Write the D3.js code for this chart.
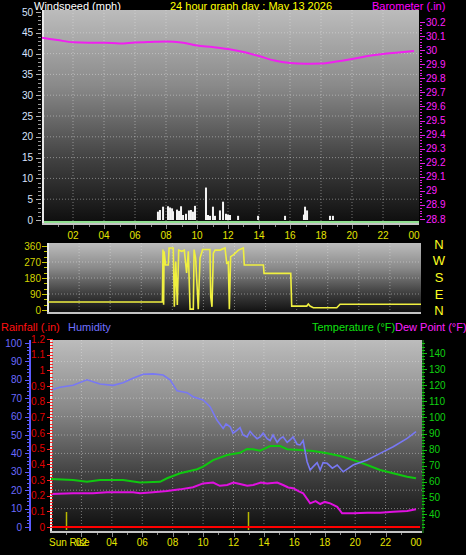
<!DOCTYPE html>
<html><head><meta charset="utf-8">
<script src="https://cdn.jsdelivr.net/npm/d3@7"></script>
<style>body{margin:0;background:#000;}svg{display:block;}text{font-family:"Liberation Sans",Arial,sans-serif;}</style>
</head><body><svg id="c" width="466" height="555"></svg>
<script>
// ---------- DATA ----------
const hourLabels = ["02","04","06","08","10","12","14","16","18","20","22","00"];
const hourLabelPos = [2,4,6,8,10,12,14,16,18,20,22,24];
const windTicks = [0,5,10,15,20,25,30,35,40,45,50];
const baroTicks = [28.8,28.9,29,29.1,29.2,29.3,29.4,29.5,29.6,29.7,29.8,29.9,30,30.1,30.2];
const dirTicks = [0,90,180,270,360];
const compass = ["N","W","S","E","N"];
const humTicks = [0,10,20,30,40,50,60,70,80,90,100];
const rainTicks = [0,0.1,0.2,0.3,0.4,0.5,0.6,0.7,0.8,0.9,1,1.1,1.2];
const tempTicks = [40,50,60,70,80,90,100,110,120,130,140];

const baroHours = [0,1,2,3,4,5,6,7,8,9,10,11,12,13,14,15,16,17,18,19,20,21,22,23,24];
const baroValues = [30.088,30.072,30.056,30.053,30.053,30.047,30.054,30.058,30.061,30.054,30.033,30.022,30.008,29.987,29.958,29.926,29.909,29.904,29.905,29.919,29.937,29.958,29.973,29.983,29.994];

const windHours = [7.48,7.61,7.81,8.13,8.26,8.39,8.45,8.71,8.84,8.97,9.10,9.29,9.48,9.61,9.74,9.87,10.58,10.71,10.84,11.03,11.16,11.48,11.68,11.87,12.0,12.13,12.65,13.94,15.68,16.9,16.97,17.1,18.58,18.77];
const windSpeeds = [2.0,2.4,3.2,3.3,3.0,2.8,2.1,2.5,2.2,3.3,1.2,1.5,2.3,2.4,2.0,3.4,7.8,1.2,1.0,3.2,1.0,2.3,4.4,1.5,1.3,1.2,1.0,1.0,1.0,1.3,3.2,2.3,1.0,1.0];

const dirHours = [0,7.36,7.40,7.44,7.47,7.57,7.74,7.79,8.06,8.13,8.22,8.32,8.41,8.6,8.77,8.92,9.03,9.14,9.35,9.4,9.5,9.67,9.78,9.95,10.42,10.47,10.55,10.64,10.75,11.07,11.39,11.5,11.6,11.67,11.75,11.93,12.25,12.57,12.63,13.86,13.9,15.62,15.68,16.65,16.75,16.86,17.07,18.58,18.79,24];
const dirValues = [45,45,340,30,330,253,253,349,349,18,272,28,337,330,337,208,330,5,5,340,290,5,292,340,340,75,18,320,337,337,349,264,270,5,300,310,337,349,253,253,206,206,22,22,34,22,13,13,32,32];

const humHours = [0,0.59,1.45,2.37,3.22,4.08,4.74,5.39,6.05,6.71,7.37,7.83,8.29,8.95,9.34,10.0,10.46,10.92,11.32,11.51,11.78,11.97,12.24,12.43,12.63,12.89,13.09,13.29,13.55,13.75,13.95,14.21,14.41,14.6,14.87,15.07,15.26,15.53,15.72,15.92,16.18,16.38,16.58,16.84,17.04,17.24,17.5,17.7,17.89,18.16,18.5,18.82,19.21,19.87,20.79,21.64,22.5,23.42,24];
const humValues = [74.5,76,77,80,77.7,77,78.4,80.8,83,83.2,82.6,80,74,73,70.8,69,65.4,58,53.6,56,54.5,51,52.7,54,50,49,52,50,48,49,51,48,47,50,46,48,49,46,47.3,49,45,44.6,47,35.5,31,32.8,35,31,35,34.6,32,33.7,30,33.7,36.4,40,43.6,48.2,51.8];

const tempHours = [0,1.45,2.37,3.22,4.74,5.86,7.17,7.63,8.49,9.61,10.0,10.66,11.58,12.43,12.89,13.29,13.75,14.41,15.07,15.53,16.38,17.24,18.16,19.01,19.87,20.79,21.64,22.5,23.42,24];
const tempValues = [61.7,61.1,60,61.1,61.1,59.5,60,62.2,65.3,67.8,69.4,73.5,76.6,78,80.4,80.2,79.3,82.2,82.2,80.2,79.8,79.1,77.7,76,73.5,70.4,67.3,65.3,63.2,62.2];

const dewHours = [0,1.45,2.76,3.68,5.39,5.86,6.71,7.63,8.49,9.34,10.0,10.66,11.1,11.58,12.0,12.43,12.9,13.29,13.8,14.21,14.87,15.26,15.6,15.92,16.3,16.58,17.04,17.4,17.7,18.0,18.36,18.82,19.14,19.87,20.79,21.64,22.5,23.42,24];
const dewValues = [52.4,52.9,52.9,53.5,53.5,52.9,53.5,54.3,55.3,56.6,59,59.5,57.5,58,59.5,58.6,57.5,58,59.5,59,59.5,58,56.5,56,54,52.9,46.6,48,46.2,47.5,46.6,44.5,40.4,40.4,40.8,40.8,41.4,41.9,42.9];

const rainHours = [0,24];
const rainValues = [0,0];
const sunHours = [0.99,12.96];
const sunLabels = ["Sun Rise"];

// ---------- DRAW ----------
const svg = d3.select("#c");
const defs = svg.append("defs");
const g = defs.append("linearGradient").attr("id","bg").attr("x1",0).attr("y1",0).attr("x2",0).attr("y2",1);
[[0,"#bcbcbc"],[0.35,"#8a8a8a"],[0.7,"#404040"],[1,"#0c0c0c"]].forEach(s=>g.append("stop").attr("offset",s[0]).attr("stop-color",s[1]));

function panel(x0,y0,x1,y1){
  svg.append("rect").attr("x",x0).attr("y",y0).attr("width",x1-x0).attr("height",y1-y0).attr("fill","url(#bg)");
}
function border(x0,y0,x1,y1){
  svg.append("line").attr("x1",x0+1).attr("x2",x0+1).attr("y1",y0).attr("y2",y1).attr("stroke","#e8e8e8").attr("stroke-width",2);
  svg.append("line").attr("x1",x0).attr("x2",x1).attr("y1",y1-1).attr("y2",y1-1).attr("stroke","#c4c4c4").attr("stroke-width",2);
}
function vgrid(x, y0, y1){
  svg.append("g").selectAll("line").data(hourLabelPos.slice(0,11)).join("line")
    .attr("x1",d=>x(d)).attr("x2",d=>x(d)).attr("y1",y0).attr("y2",y1)
    .attr("stroke","#e6e6e6").attr("stroke-opacity",0.45).attr("stroke-dasharray","1,2");
}
function hgrid(ys, x0, x1){
  svg.append("g").selectAll("line").data(ys).join("line")
    .attr("x1",x0).attr("x2",x1).attr("y1",d=>d).attr("y2",d=>d)
    .attr("stroke","#e6e6e6").attr("stroke-opacity",0.45).attr("stroke-dasharray","1,2");
}
function ticks(vals, scale, xa, xb, color, w){
  svg.append("g").selectAll("line").data(vals).join("line")
    .attr("x1",xa).attr("x2",xb).attr("y1",d=>Math.round(scale(d))+0.5).attr("y2",d=>Math.round(scale(d))+0.5)
    .attr("stroke",color).attr("stroke-width",w||1);
}
function xticks(x, y, color){
  svg.append("g").selectAll("line").data(d3.range(1,24)).join("line")
    .attr("x1",d=>Math.round(x(d))+0.5).attr("x2",d=>Math.round(x(d))+0.5)
    .attr("y1",y).attr("y2",d=>y+(d%2===0?4:2)).attr("stroke",color);
}

// headers
svg.append("text").attr("x",34).attr("y",10).attr("fill","#ffffff").attr("font-size",11).text("Windspeed (mph)");
svg.append("text").attr("x",251).attr("y",10).attr("text-anchor","middle").attr("fill","#ffff00").attr("font-size",11).text("24 hour graph day : May 13 2026");
svg.append("text").attr("x",372).attr("y",10).attr("fill","#ff00ff").attr("font-size",11).text("Barometer (.in)");

// ===== TOP PANEL =====
const xT = d3.scaleLinear().domain([0,24]).range([42,414]);
const yW = d3.scaleLinear().domain([0,50]).range([220,12]);
const yB = d3.scaleLinear().domain([28.8,30.2]).range([219,22]);
panel(42,10,419,225);
vgrid(xT,10,222);
hgrid(windTicks.slice(1,10).map(v=>yW(v)),44,419);
svg.append("g").selectAll("rect").data(windHours).join("rect")
  .attr("x",d=>xT(d)-1).attr("width",2)
  .attr("y",(d,i)=>yW(windSpeeds[i])).attr("height",(d,i)=>yW(0)-yW(windSpeeds[i]))
  .attr("fill","#f4f4f4");
border(42,10,419,225);
svg.append("line").attr("x1",44).attr("x2",419).attr("y1",222).attr("y2",222).attr("stroke","#90e090").attr("stroke-width",2);
svg.append("path").datum(baroHours).attr("fill","none").attr("stroke","#f020f0").attr("stroke-width",2)
  .attr("d",d3.line().x(d=>xT(d)).y((d,i)=>yB(baroValues[i])).curve(d3.curveMonotoneX));
ticks(d3.range(0,51,1),yW,38,41,"#9a9a9a");
ticks(windTicks,yW,36,41,"#b0b0b0");
svg.append("g").selectAll("text").data(windTicks).join("text")
  .attr("x",33).attr("y",d=>yW(d)+3.5).attr("text-anchor","end").attr("font-size",10).attr("fill","#d8e4ff").text(d=>d);
ticks(d3.range(28.8,30.21,0.02),yB,420,422,"#e020e0");
ticks(baroTicks,yB,420,425,"#e020e0");
svg.append("g").selectAll("text").data(baroTicks).join("text")
  .attr("x",426).attr("y",d=>yB(d)+3.5).attr("font-size",10).attr("fill","#ff20ff").text(d=>d);
xticks(xT,225,"#8a8a8a");
svg.append("g").selectAll("text").data(hourLabels).join("text")
  .attr("x",(d,i)=>xT(hourLabelPos[i])).attr("y",239).attr("text-anchor","middle").attr("font-size",10).attr("fill","#e4e400").text(d=>d);

// ===== MIDDLE PANEL =====
const xM = d3.scaleLinear().domain([0,24]).range([48,421]);
const yD = d3.scaleLinear().domain([0,360]).range([310,246]);
panel(47,243,421,314);
vgrid(xM,243,312);
hgrid([90,180,270].map(v=>yD(v)),49,421);
border(47,243,421,314);
svg.append("path").datum(dirHours).attr("fill","none").attr("stroke","#f0f040").attr("stroke-width",1.6)
  .attr("d",d3.line().x(d=>xM(d)).y((d,i)=>yD(dirValues[i])));
ticks(d3.range(0,361,30),yD,44,47,"#c8c800");
ticks(dirTicks,yD,42,47,"#c8c800");
svg.append("g").selectAll("text").data(dirTicks).join("text")
  .attr("x",41).attr("y",d=>yD(d)+3.5).attr("text-anchor","end").attr("font-size",10).attr("fill","#d4d400").text(d=>d);
svg.append("g").selectAll("text").data(compass).join("text")
  .attr("x",439).attr("y",(d,i)=>[249,265,282,299,315][i]).attr("text-anchor","middle").attr("font-size",13).attr("fill","#ffff20").text(d=>d);

// ===== BOTTOM PANEL =====
svg.append("text").attr("x",1).attr("y",331).attr("font-size",11).attr("fill","#ff1010").text("Rainfall (.in)");
svg.append("text").attr("x",68).attr("y",331).attr("font-size",11).attr("fill","#7070ff").text("Humidity");
svg.append("text").attr("x",312).attr("y",331).attr("font-size",11).attr("fill","#10e010").text("Temperature (°F)");
svg.append("text").attr("x",395).attr("y",331).attr("font-size",11).attr("fill","#ff20ff").text("Dew Point (°F)");

const xB = d3.scaleLinear().domain([0,24]).range([51,416]);
const yH = d3.scaleLinear().domain([0,100]).range([527,343]);
const yR = d3.scaleLinear().domain([0,1.2]).range([527,339]);
const yTp = d3.scaleLinear().domain([40,140]).range([514,353]);
panel(50,340,422,533);
vgrid(xB,340,530);
hgrid(humTicks.slice(1,10).map(v=>yH(v)),52,422);
border(50,340,422,533);
svg.append("g").selectAll("line").data(sunHours).join("line")
  .attr("x1",d=>Math.round(xB(d))+0.5).attr("x2",d=>Math.round(xB(d))+0.5).attr("y1",512).attr("y2",530)
  .attr("stroke","#b8b800").attr("stroke-width",1.5);
const lineB = (hrs, vals, ys) => d3.line().x(d=>xB(d)).y((d,i)=>ys(vals[i]));
svg.append("path").datum(dewHours).attr("fill","none").attr("stroke","#e010e0").attr("stroke-width",2).attr("d",lineB(dewHours,dewValues,yTp));
svg.append("path").datum(tempHours).attr("fill","none").attr("stroke","#10c810").attr("stroke-width",2).attr("d",lineB(tempHours,tempValues,yTp));
svg.append("path").datum(humHours).attr("fill","none").attr("stroke","#7878f4").attr("stroke-width",1.6).attr("d",lineB(humHours,humValues,yH));
svg.append("path").datum(rainHours).attr("fill","none").attr("stroke","#ff0000").attr("stroke-width",2).attr("d",d3.line().x(d=>d===0?52:xB(d)+4).y((d,i)=>yR(rainValues[i])));
svg.append("line").attr("x1",30).attr("x2",30).attr("y1",340).attr("y2",531).attr("stroke","#5a5aff").attr("stroke-width",2);
ticks(d3.range(0,101,2),yH,27,29,"#5a5aff");
ticks(humTicks,yH,25,29,"#5a5aff");
svg.append("g").selectAll("text").data(humTicks).join("text")
  .attr("x",22).attr("y",d=>yH(d)+3.5).attr("text-anchor","end").attr("font-size",10).attr("fill","#6a6aff").text(d=>d);
ticks(d3.range(0,1.201,0.02),yR,50,53,"#ff2020");
ticks(rainTicks,yR,47,52,"#ff2020");
svg.append("g").selectAll("text").data(rainTicks).join("text")
  .attr("x",45).attr("y",d=>yR(d)+3.5).attr("text-anchor","end").attr("font-size",10).attr("fill","#e00000").text(d=>d);
svg.append("line").attr("x1",423).attr("x2",423).attr("y1",340).attr("y2",533).attr("stroke","#20a020").attr("stroke-width",1);
ticks(d3.range(32,148,2),yTp,422,425,"#10c010");
ticks(tempTicks,yTp,422,427,"#10c010");
svg.append("g").selectAll("text").data(tempTicks).join("text")
  .attr("x",429).attr("y",d=>yTp(d)+3.5).attr("font-size",10).attr("fill","#10d010").text(d=>d);
xticks(xB,533,"#8a8a8a");
svg.append("g").selectAll("text").data(hourLabels).join("text")
  .attr("x",(d,i)=>xB(hourLabelPos[i])).attr("y",546).attr("text-anchor","middle").attr("font-size",10).attr("fill","#e4e400").text(d=>d);
svg.append("text").attr("x",49).attr("y",546).attr("font-size",10).attr("fill","#e4e400").text(sunLabels[0]);
</script></body></html>
